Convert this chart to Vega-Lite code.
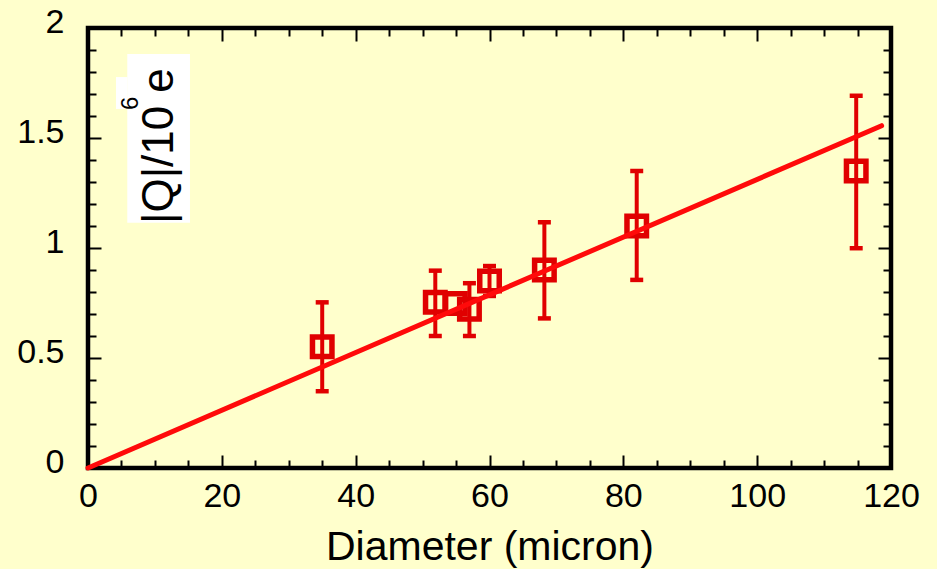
{
  "$schema": "https://vega.github.io/schema/vega-lite/v6.json",
  "width": 803,
  "height": 440,
  "autosize": {"type": "none"},
  "padding": {"left": 88, "top": 28, "right": 46, "bottom": 101},
  "background": "#FFFFCC",
  "config": {
    "view": {"stroke": "black", "strokeWidth": 4.5, "fill": "#FFFFCC"},
    "font": "Liberation Sans",
    "axis": {
      "domain": false,
      "grid": false,
      "tickColor": "black",
      "tickWidth": 2,
      "labelFont": "Liberation Sans",
      "labelFontSize": 34,
      "labelColor": "black",
      "titleFont": "Liberation Sans",
      "titleFontSize": 41,
      "titleFontWeight": "normal",
      "titleColor": "black",
      "labelOverlap": false,
      "labelBound": false,
      "labelFlush": false
    }
  },
  "datasets": {
    "points": [
      {"d": 35.0, "q": 0.551, "lo": 0.349, "hi": 0.753},
      {"d": 51.9, "q": 0.753, "lo": 0.600, "hi": 0.897},
      {"d": 54.9, "q": 0.748, "lo": null, "hi": null},
      {"d": 57.0, "q": 0.722, "lo": 0.600, "hi": 0.840},
      {"d": 60.0, "q": 0.850, "lo": 0.782, "hi": 0.918},
      {"d": 68.2, "q": 0.900, "lo": 0.680, "hi": 1.117},
      {"d": 82.0, "q": 1.100, "lo": 0.855, "hi": 1.350},
      {"d": 114.8, "q": 1.350, "lo": 0.999, "hi": 1.692}
    ],
    "fit": [
      {"d": 0, "q": 0},
      {"d": 118.6, "q": 1.556}
    ]
  },
  "layer": [
    {
      "data": {"values": [{}]},
      "mark": {"type": "rect", "fill": "white"},
      "encoding": {
        "x": {"datum": 5.87, "type": "quantitative", "scale": {"domain": [0, 120], "nice": false, "zero": false}, "axis": null},
        "x2": {"datum": 15.24},
        "y": {"datum": 1.882, "type": "quantitative", "scale": {"domain": [0, 2], "nice": false, "zero": false}, "axis": null},
        "y2": {"datum": 1.115}
      }
    },
    {
      "data": {"values": [{}]},
      "mark": {"type": "rect", "fill": "white"},
      "encoding": {
        "x": {"datum": 4.18, "type": "quantitative", "axis": null},
        "x2": {"datum": 5.9},
        "y": {"datum": 1.777, "type": "quantitative", "axis": null},
        "y2": {"datum": 1.632}
      }
    },
    {
      "data": {"values": [{}]},
      "mark": {"type": "text", "text": "|Q|/10", "angle": 270, "fontSize": 44, "font": "Liberation Sans", "align": "left", "baseline": "alphabetic", "color": "black"},
      "encoding": {
        "x": {"datum": 12.76, "type": "quantitative", "axis": null},
        "y": {"datum": 1.109, "type": "quantitative", "axis": null}
      }
    },
    {
      "data": {"values": [{}]},
      "mark": {"type": "text", "text": "6", "angle": 270, "fontSize": 24, "font": "Liberation Sans", "align": "center", "baseline": "middle", "color": "black"},
      "encoding": {
        "x": {"datum": 6.47, "type": "quantitative", "axis": null},
        "y": {"datum": 1.658, "type": "quantitative", "axis": null}
      }
    },
    {
      "data": {"values": [{}]},
      "mark": {"type": "text", "text": "e", "angle": 270, "fontSize": 44, "font": "Liberation Sans", "align": "center", "baseline": "alphabetic", "color": "black"},
      "encoding": {
        "x": {"datum": 12.76, "type": "quantitative", "axis": null},
        "y": {"datum": 1.761, "type": "quantitative", "axis": null}
      }
    },
    {
      "data": {"name": "points"},
      "transform": [{"filter": "datum.lo != null"}],
      "mark": {"type": "rule", "color": "#E00000", "strokeWidth": 4},
      "encoding": {
        "x": {
          "field": "d", "type": "quantitative",
          "axis": {
            "orient": "bottom",
            "values": [0, 5, 10, 15, 20, 25, 30, 35, 40, 45, 50, 55, 60, 65, 70, 75, 80, 85, 90, 95, 100, 105, 110, 115, 120],
            "tickSize": {"condition": {"test": "datum.value % 20 === 0", "value": -13}, "value": -8},
            "labelExpr": "datum.value % 20 === 0 ? datum.label : ''",
            "labelPadding": 24,
            "title": "Diameter (micron)",
            "titlePadding": 9
          }
        },
        "y": {
          "field": "lo", "type": "quantitative",
          "axis": {
            "orient": "left",
            "values": [0, 0.1, 0.2, 0.3, 0.4, 0.5, 0.6, 0.7, 0.8, 0.9, 1, 1.1, 1.2, 1.3, 1.4, 1.5, 1.6, 1.7, 1.8, 1.9, 2],
            "tickSize": {"condition": {"test": "round(datum.value * 10) % 5 === 0", "value": -13}, "value": -8},
            "labelExpr": "round(datum.value * 10) % 5 === 0 ? '' + datum.value : ''",
            "labelPadding": 37,
            "labelOffset": -6,
            "title": null
          }
        },
        "y2": {"field": "hi"}
      }
    },
    {
      "data": {"name": "points"},
      "transform": [{"filter": "datum.lo != null"}],
      "mark": {"type": "tick", "orient": "horizontal", "color": "#E00000", "size": 13, "thickness": 4.5, "opacity": 1},
      "encoding": {
        "x": {"field": "d", "type": "quantitative", "axis": null},
        "y": {"field": "lo", "type": "quantitative", "axis": null}
      }
    },
    {
      "data": {"name": "points"},
      "transform": [{"filter": "datum.hi != null"}],
      "mark": {"type": "tick", "orient": "horizontal", "color": "#E00000", "size": 13, "thickness": 4.5, "opacity": 1},
      "encoding": {
        "x": {"field": "d", "type": "quantitative", "axis": null},
        "y": {"field": "hi", "type": "quantitative", "axis": null}
      }
    },
    {
      "data": {"name": "points"},
      "mark": {"type": "point", "shape": "square", "filled": false, "color": "#E00000", "size": 380, "strokeWidth": 5.5, "opacity": 1},
      "encoding": {
        "x": {
          "field": "d", "type": "quantitative",
          "axis": {
            "orient": "top",
            "values": [0, 5, 10, 15, 20, 25, 30, 35, 40, 45, 50, 55, 60, 65, 70, 75, 80, 85, 90, 95, 100, 105, 110, 115, 120],
            "tickSize": {"condition": {"test": "datum.value % 20 === 0", "value": -13}, "value": -8},
            "labels": false,
            "title": null
          }
        },
        "y": {
          "field": "q", "type": "quantitative",
          "axis": {
            "orient": "right",
            "values": [0, 0.1, 0.2, 0.3, 0.4, 0.5, 0.6, 0.7, 0.8, 0.9, 1, 1.1, 1.2, 1.3, 1.4, 1.5, 1.6, 1.7, 1.8, 1.9, 2],
            "tickSize": {"condition": {"test": "round(datum.value * 10) % 5 === 0", "value": -13}, "value": -8},
            "labels": false,
            "title": null
          }
        }
      }
    },
    {
      "data": {"name": "fit"},
      "mark": {"type": "line", "color": "#FF0A0A", "strokeWidth": 5, "strokeCap": "round"},
      "encoding": {
        "x": {"field": "d", "type": "quantitative", "axis": null},
        "y": {"field": "q", "type": "quantitative", "axis": null}
      }
    }
  ],
  "resolve": {"axis": {"x": "independent", "y": "independent"}}
}
